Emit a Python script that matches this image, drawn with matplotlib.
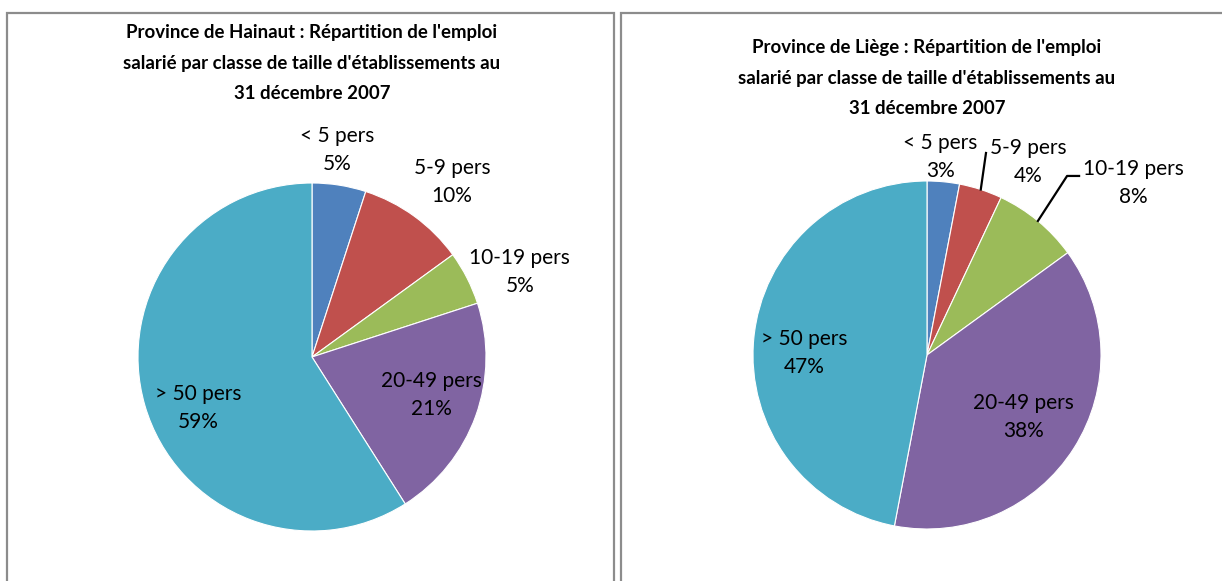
import matplotlib.pyplot as plt
from matplotlib.patches import Rectangle
import numpy as np

plt.rcParams["font.family"] = ["Lato", "DejaVu Sans"]

categories = ["< 5 pers", "5-9 pers", "10-19 pers", "20-49 pers", "> 50 pers"]
hainaut_pct = [5, 10, 5, 21, 59]
liege_pct = [3, 4, 8, 38, 47]

titles = [
    "Province de Hainaut : Répartition de l'emploi\nsalarié par classe de taille d'établissements au\n31 décembre 2007",
    "Province de Liège : Répartition de l'emploi\nsalarié par classe de taille d'établissements au\n31 décembre 2007",
]
colors = ["#4F81BD", "#C0504D", "#9BBB59", "#8064A2", "#4BACC6"]

W, H = 1222, 581
fig = plt.figure(figsize=(W / 100, H / 100), dpi=100)

# panel frames (pixels: x0, x1), open at the bottom
for x0, x1 in [(7, 614), (621, 1240)]:
    fig.patches.append(Rectangle((x0 / W, -0.05), (x1 - x0) / W, (H - 13) / H + 0.05,
                                 transform=fig.transFigure, fill=False,
                                 edgecolor="#8c8c8c", linewidth=1.6))

# label positions in radius units, relative to pie centre
label_pos = [
    [(0.144, 1.190), (0.805, 1.006), (1.195, 0.489), (0.684, -0.218), (-0.655, -0.293)],
    [(0.075, 1.138), (0.580, 1.109), (1.184, 0.989), (0.557, -0.356), (-0.707, 0.011)],
]
# leader lines (only Liège): index -> elbow points
leaders = [{}, {1: [(0.339, 1.161)], 2: [(0.805, 1.029), (0.874, 1.029)]}]

centres = [(312, 357), (927, 355)]
title_y = [24, 39]
radius = 174
pad = 1.6

for k, values in enumerate([hainaut_pct, liege_pct]):
    cx, cy = centres[k]
    size = 2 * radius * pad
    ax = fig.add_axes([(cx - radius * pad) / W, (H - cy - radius * pad) / H, size / W, size / H])
    wedges, _ = ax.pie(values, colors=colors, startangle=90, counterclock=False,
                       radius=1, wedgeprops=dict(edgecolor="white", linewidth=0.8))
    ax.set_xlim(-pad, pad)
    ax.set_ylim(-pad, pad)
    ax.axis("off")
    for i, (cat, v) in enumerate(zip(categories, values)):
        lx, ly = label_pos[k][i]
        ax.text(lx, ly, f"{cat}\n{v}%", ha="center", va="center", fontsize=15,
                linespacing=1.5, color="black")
        if i in leaders[k]:
            w = wedges[i]
            mid = np.deg2rad((w.theta1 + w.theta2) / 2)
            pts = [(np.cos(mid), np.sin(mid))] + leaders[k][i]
            xs, ys = zip(*pts)
            ax.plot(xs, ys, color="black", linewidth=1.6)
    fig.text(cx / W, 1 - title_y[k] / H, titles[k], ha="center", va="top",
             fontsize=13.4, fontweight="bold", linespacing=1.97)

fig.savefig("out.png", dpi=100)
